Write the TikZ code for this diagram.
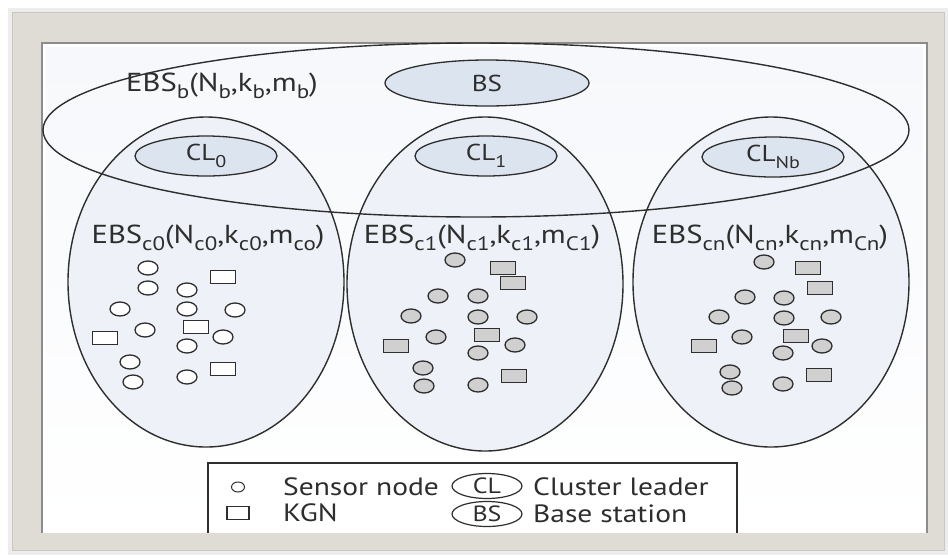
\documentclass[tikz,border=0pt]{standalone}
\usepackage{fontspec}
\setmainfont{PT Sans}[FakeStretch=1.18]
\usetikzlibrary{shapes.geometric}
\definecolor{framegray}{HTML}{DEDCD5}
\definecolor{frameedge}{HTML}{C9C7C0}
\definecolor{panel}{HTML}{F6F8FB}
\definecolor{clustfill}{HTML}{EEF1F7}
\definecolor{clfill}{HTML}{DCE4F0}
\definecolor{symfill}{HTML}{D0D0D0}
\definecolor{ink}{HTML}{2E2E2E}
\newcommand{\lowsub}[1]{\raisebox{-0.3em}{\fontsize{19.5}{19.5}\selectfont #1}}
\newcommand{\clsub}[1]{\raisebox{-0.3em}{\fontsize{17}{17}\selectfont #1}}
\tikzset{
  lbl/.style={font=\fontsize{26}{26}\selectfont, text=ink, inner sep=0pt},
  clnode/.style={ellipse, draw=ink, line width=1.3pt, fill=clfill, minimum width=142pt,
    minimum height=40pt, inner sep=0pt, font=\fontsize{23}{23}\selectfont, text=ink},
  sens/.style={ellipse, draw=ink, line width=1.3pt, minimum width=20pt, minimum height=14pt, inner sep=0pt},
  kgn/.style={rectangle, draw=ink, line width=1.3pt, minimum width=25pt, minimum height=13pt, inner sep=0pt},
  bigline/.style={draw=ink, line width=1.4pt},
  legtext/.style={font=\fontsize{25}{25}\selectfont, text=ink, inner sep=0pt, anchor=base west},
  legell/.style={ellipse, draw=ink, line width=1.2pt, minimum width=70pt, minimum height=25pt,
    inner sep=0pt, font=\fontsize{22}{22}\selectfont, text=ink}
}
\begin{document}
\begin{tikzpicture}[x=1pt,y=-1pt]
\useasboundingbox (0,0) rectangle (948,558);
% frame
\fill[white] (0,0) rectangle (948,558);
\fill[black!7] (8,8) rectangle (948,555);
\fill[framegray, draw=frameedge, line width=0.8pt] (12,12) rectangle (944,550);
\fill[white] (42,43) rectangle (927,533);
\shade[top color=panel, bottom color=white] (46,47) rectangle (923,529);
\draw[black!45, line width=1.2pt] (42,533) -- (42,43) -- (927,43) -- (927,533);

% cluster fills
\fill[clustfill] (206,282) ellipse [x radius=138pt, y radius=165pt];
\fill[clustfill] (485,284) ellipse [x radius=138pt, y radius=167pt];
\fill[clustfill] (771,282) ellipse [x radius=138pt, y radius=165pt];
% big ellipse
\draw[bigline] (476,130) ellipse [x radius=433pt, y radius=87pt];
% cluster outlines
\draw[bigline] (206,282) ellipse [x radius=138pt, y radius=165pt];
\draw[bigline] (485,284) ellipse [x radius=138pt, y radius=167pt];
\draw[bigline] (771,282) ellipse [x radius=138pt, y radius=165pt];

% top level
\node[lbl, anchor=base] (ebsb) at (222,91) {EBS\lowsub{b}(N\lowsub{b},k\lowsub{b},m\lowsub{b})};
\node[clnode, minimum width=204pt, minimum height=46pt] (bs) at (487,83) {BS};
\node[clnode] (cl0) at (206,156) {CL\clsub{0}};
\node[clnode] (cl1) at (486,156) {CL\clsub{1}};
\node[clnode] (clnb) at (773,157) {CL\clsub{Nb}};

% cluster labels
\node[lbl, anchor=base] (ebs0) at (208,243) {EBS\lowsub{c0}(N\lowsub{c0},k\lowsub{c0},m\lowsub{co})};
\node[lbl, anchor=base] (ebs1) at (482,243) {EBS\lowsub{c1}(N\lowsub{c1},k\lowsub{c1},m\lowsub{C1})};
\node[lbl, anchor=base] (ebsn) at (770,243) {EBS\lowsub{cn}(N\lowsub{cn},k\lowsub{cn},m\lowsub{Cn})};

% cluster 0 symbols
\foreach \x/\y [count=\i] in {148/268,148/288,187/290,120/309,187/309,235/310,145/330,223/337,187/346,130/362,133/382,187/377}
  \node[sens, fill=white] (a\i) at (\x,\y) {};
\foreach \x/\y [count=\i] in {223/277,196/327,105/338,223/369}
  \node[kgn, fill=white] (ak\i) at (\x,\y) {};
% cluster 1 symbols
\foreach \x/\y [count=\i] in {455/260,438/296,478/296,411/316,478/317,527/317,436/337,515/345,478/353,423/368,424/386,478/385}
  \node[sens, fill=symfill] (b\i) at (\x,\y) {};
\foreach \x/\y [count=\i] in {503/268,513/283,487/335,396/346,514/376}
  \node[kgn, fill=symfill] (bk\i) at (\x,\y) {};
% cluster n symbols
\foreach \x/\y [count=\i] in {764/262,745/297,784/298,719/317,784/318,831/317,742/337,822/346,783/353,730/372,732/388,783/384}
  \node[sens, fill=symfill] (c\i) at (\x,\y) {};
\foreach \x/\y [count=\i] in {808/268,820/288,796/336,704/346,819/375}
  \node[kgn, fill=symfill] (ck\i) at (\x,\y) {};

% legend
\fill[white] (208,463) rectangle (737,533);
\draw[ink, line width=1.1pt] (208,533) -- (208,463) -- (737,463) -- (737,533);
\node[sens, minimum width=13pt, minimum height=10pt, line width=1pt] (lsens) at (238,487) {};
\node[kgn, minimum width=22pt, minimum height=13pt, line width=1.1pt] (lkgn) at (238,513) {};
\node[legtext] (tsens) at (283,495) {Sensor node};
\node[legtext] (tkgn) at (283,521) {KGN};
\node[legell] (lcl) at (487,486) {CL};
\node[legell] (lbs) at (487,514) {BS};
\node[legtext] (tcl) at (533,495) {Cluster leader};
\node[legtext] (tbs) at (533,522) {Base station};
\end{tikzpicture}
\end{document}
